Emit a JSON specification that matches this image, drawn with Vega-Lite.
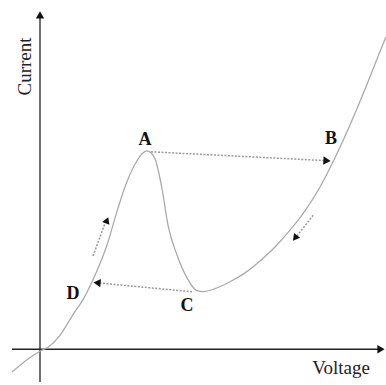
{
  "$schema": "https://vega.github.io/schema/vega-lite/v6.json",
  "width": 386,
  "height": 385,
  "autosize": {"type": "fit", "contains": "padding"},
  "padding": 0,
  "background": "white",
  "config": {"view": {"stroke": null}},
  "datasets": {
    "curve": [
      {"v": -28, "i": -23}, {"v": -15, "i": -12}, {"v": -5, "i": -5}, {"v": 0, "i": -2},
      {"v": 8, "i": 2}, {"v": 20, "i": 14}, {"v": 33, "i": 35}, {"v": 43, "i": 50},
      {"v": 53, "i": 70}, {"v": 67, "i": 105}, {"v": 77, "i": 139}, {"v": 87, "i": 169},
      {"v": 97, "i": 190}, {"v": 102, "i": 197}, {"v": 107, "i": 200}, {"v": 111, "i": 198},
      {"v": 115, "i": 192}, {"v": 122, "i": 162}, {"v": 128, "i": 125}, {"v": 137, "i": 95},
      {"v": 147, "i": 72}, {"v": 157, "i": 59}, {"v": 163, "i": 58}, {"v": 175, "i": 61},
      {"v": 190, "i": 68}, {"v": 205, "i": 77}, {"v": 220, "i": 89}, {"v": 235, "i": 103},
      {"v": 250, "i": 120}, {"v": 265, "i": 139.5}, {"v": 280, "i": 163.5}, {"v": 295, "i": 193},
      {"v": 310, "i": 226}, {"v": 325, "i": 262}, {"v": 340, "i": 300}, {"v": 346, "i": 315}
    ],
    "arrows": [
      {"id": "AB", "v": 111, "i": 199}, {"id": "AB", "v": 288, "i": 190},
      {"id": "CD", "v": 152, "i": 58}, {"id": "CD", "v": 56, "i": 67},
      {"id": "up", "v": 53, "i": 94}, {"id": "up", "v": 65, "i": 127},
      {"id": "down", "v": 273, "i": 135}, {"id": "down", "v": 257, "i": 114}
    ],
    "heads": [
      {"id": "AB", "v": 287, "i": 190},
      {"id": "CD", "v": 57, "i": 67},
      {"id": "up", "v": 67, "i": 130},
      {"id": "down", "v": 255, "i": 112},
      {"id": "yaxis", "v": 0, "i": 337},
      {"id": "xaxis", "v": 341, "i": 0}
    ],
    "axes": [
      {"id": "x", "v": -28, "i": 0}, {"id": "x", "v": 340, "i": 0},
      {"id": "y", "v": 0, "i": -33}, {"id": "y", "v": 0, "i": 334}
    ],
    "labels": [
      {"t": "A", "v": 105, "i": 211},
      {"t": "B", "v": 291, "i": 212},
      {"t": "C", "v": 147, "i": 44},
      {"t": "D", "v": 33, "i": 56}
    ],
    "titles": [
      {"t": "Current", "v": -15, "i": 285, "rot": "y"},
      {"t": "Voltage", "v": 301, "i": -19, "rot": "x"}
    ]
  },
  "encoding": {
    "x": {"field": "v", "type": "quantitative", "scale": {"domain": [-40, 346], "nice": false, "zero": false}, "axis": null},
    "y": {"field": "i", "type": "quantitative", "scale": {"domain": [-33, 352], "nice": false, "zero": false}, "axis": null}
  },
  "layer": [
    {
      "data": {"name": "axes"},
      "mark": {"type": "line", "color": "#222", "strokeWidth": 1.3, "clip": false},
      "encoding": {"detail": {"field": "id"}}
    },
    {
      "data": {"name": "curve"},
      "mark": {"type": "line", "color": "#aaaaaa", "strokeWidth": 1.3, "interpolate": "monotone", "clip": true}
    },
    {
      "data": {"name": "arrows"},
      "mark": {"type": "line", "color": "#999999", "strokeWidth": 1.5, "strokeDash": [2, 1.5]},
      "encoding": {"detail": {"field": "id"}}
    },
    {
      "data": {"name": "heads"},
      "transform": [{"filter": "datum.id == 'AB'"}],
      "mark": {"type": "point", "shape": "triangle-right", "filled": true, "color": "#111", "size": 70, "opacity": 1, "angle": 3}
    },
    {
      "data": {"name": "heads"},
      "transform": [{"filter": "datum.id == 'CD'"}],
      "mark": {"type": "point", "shape": "triangle-left", "filled": true, "color": "#111", "size": 70, "opacity": 1, "angle": 5}
    },
    {
      "data": {"name": "heads"},
      "transform": [{"filter": "datum.id == 'up'"}],
      "mark": {"type": "point", "shape": "triangle-up", "filled": true, "color": "#111", "size": 60, "opacity": 1, "angle": 21}
    },
    {
      "data": {"name": "heads"},
      "transform": [{"filter": "datum.id == 'down'"}],
      "mark": {"type": "point", "shape": "triangle-down", "filled": true, "color": "#111", "size": 60, "opacity": 1, "angle": 38}
    },
    {
      "data": {"name": "heads"},
      "transform": [{"filter": "datum.id == 'yaxis'"}],
      "mark": {"type": "point", "shape": "triangle-up", "filled": true, "color": "#111", "size": 70, "opacity": 1}
    },
    {
      "data": {"name": "heads"},
      "transform": [{"filter": "datum.id == 'xaxis'"}],
      "mark": {"type": "point", "shape": "triangle-right", "filled": true, "color": "#111", "size": 70, "opacity": 1}
    },
    {
      "data": {"name": "labels"},
      "mark": {"type": "text", "font": "Liberation Serif", "fontWeight": "bold", "fontSize": 18, "color": "#111"},
      "encoding": {"text": {"field": "t"}}
    },
    {
      "data": {"name": "titles"},
      "transform": [{"filter": "datum.rot == 'y'"}],
      "mark": {"type": "text", "font": "Liberation Serif", "fontSize": 19, "color": "#222", "angle": 270},
      "encoding": {"text": {"field": "t"}}
    },
    {
      "data": {"name": "titles"},
      "transform": [{"filter": "datum.rot == 'x'"}],
      "mark": {"type": "text", "font": "Liberation Serif", "fontSize": 19, "color": "#222"},
      "encoding": {"text": {"field": "t"}}
    }
  ]
}
